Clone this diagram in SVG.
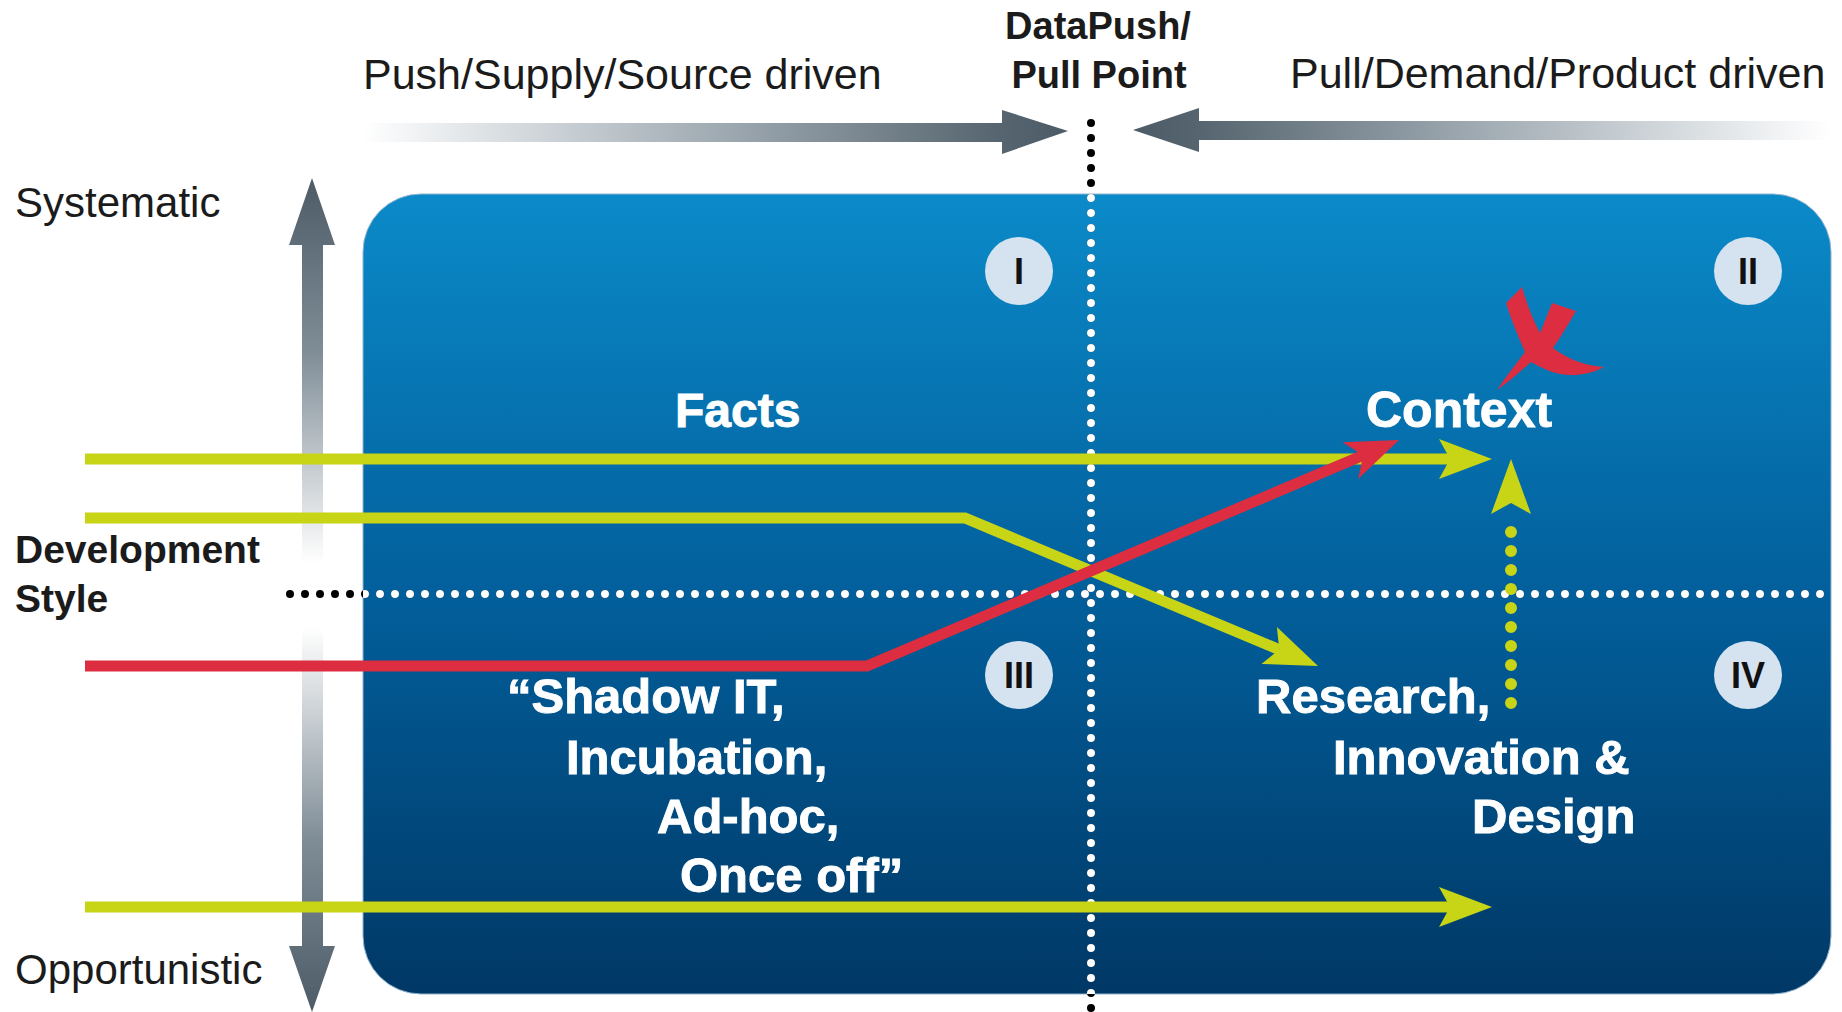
<svg xmlns="http://www.w3.org/2000/svg" width="1842" height="1012" viewBox="0 0 1842 1012">
<defs>
  <linearGradient id="gBox" x1="0" y1="0" x2="0" y2="1">
    <stop offset="0" stop-color="#0B8AC9"/>
    <stop offset="0.5" stop-color="#025F9B"/>
    <stop offset="1" stop-color="#003866"/>
  </linearGradient>
  <linearGradient id="gPush" gradientUnits="userSpaceOnUse" x1="362" y1="0" x2="1068" y2="0">
    <stop offset="0" stop-color="#ffffff"/>
    <stop offset="0.15" stop-color="#e2e6e9"/>
    <stop offset="0.6" stop-color="#8e9aa3"/>
    <stop offset="0.9" stop-color="#56656f"/>
    <stop offset="1" stop-color="#4c5b66"/>
  </linearGradient>
  <linearGradient id="gPull" gradientUnits="userSpaceOnUse" x1="1830" y1="0" x2="1133" y2="0">
    <stop offset="0" stop-color="#ffffff"/>
    <stop offset="0.15" stop-color="#e2e6e9"/>
    <stop offset="0.6" stop-color="#8e9aa3"/>
    <stop offset="0.9" stop-color="#56656f"/>
    <stop offset="1" stop-color="#4c5b66"/>
  </linearGradient>
  <linearGradient id="gUp" gradientUnits="userSpaceOnUse" x1="0" y1="178" x2="0" y2="563">
    <stop offset="0" stop-color="#4c5b66"/>
    <stop offset="0.45" stop-color="#7f8d97"/>
    <stop offset="1" stop-color="#ffffff"/>
  </linearGradient>
  <linearGradient id="gDown" gradientUnits="userSpaceOnUse" x1="0" y1="628" x2="0" y2="1012">
    <stop offset="0" stop-color="#ffffff"/>
    <stop offset="0.55" stop-color="#7f8d97"/>
    <stop offset="1" stop-color="#4c5b66"/>
  </linearGradient>
  <clipPath id="boxClip">
    <rect x="363" y="194" width="1468" height="800" rx="58" ry="58"/>
  </clipPath>
  <marker id="headY" markerUnits="userSpaceOnUse" markerWidth="60" markerHeight="44" viewBox="-12 -22 56 44" refX="0" refY="0" orient="auto" overflow="visible">
    <path d="M42,0 L-11,-20 L0,0 L-11,20 Z" fill="#C8D416"/>
  </marker>
  <marker id="headR" markerUnits="userSpaceOnUse" markerWidth="60" markerHeight="44" viewBox="-12 -22 56 44" refX="0" refY="0" orient="auto" overflow="visible">
    <path d="M39,0 L-14,-20 L0,0 L-14,20 Z" fill="#DC2D41"/>
  </marker>
  <style>
    .lbl { font-family: "Liberation Sans", Arial, sans-serif; fill: #1b1b1b; }
    .reg { font-size: 42px; }
    .bold { font-size: 38px; font-weight: bold; }
    .inner { font-family: "Liberation Sans", Arial, sans-serif; font-weight: bold; fill: #ffffff; stroke: #ffffff; stroke-width: 0.9px; font-size: 49px; }
    .num { font-family: "Liberation Sans", Arial, sans-serif; font-weight: bold; font-size: 36px; fill: #111111; text-anchor: middle; }
    .circ { fill: #D5E2EF; }
    .yel { fill: none; stroke: #C8D416; stroke-width: 11; }
    .red { fill: none; stroke: #DC2D41; stroke-width: 11; }
    .dotB { fill: none; stroke: #000000; stroke-width: 8; stroke-dasharray: 0 15; stroke-linecap: round; }
    .dotW { fill: none; stroke: #ffffff; stroke-width: 8; stroke-dasharray: 0 15; stroke-linecap: round; }
  </style>
</defs>

<rect width="1842" height="1012" fill="#ffffff"/>

<!-- top push/pull arrows -->
<g id="push-arrow">
  <path d="M362,123 L1002,123 L1002,110 L1068,131 L1002,154 L1002,142 L362,142 Z" fill="url(#gPush)"/>
</g>
<g id="pull-arrow">
  <path d="M1830,121 L1199,121 L1199,108 L1133,130 L1199,152 L1199,140 L1830,140 Z" fill="url(#gPull)"/>
</g>

<!-- vertical axis arrow -->
<g id="axis-arrow">
  <path d="M312,178 L335,245 L323,245 L323,563 L302,563 L302,245 L289,245 Z" fill="url(#gUp)"/>
  <path d="M302,628 L323,628 L323,946 L335,946 L312,1012 L289,946 L302,946 Z" fill="url(#gDown)"/>
</g>

<!-- main box -->
<g id="matrix">
  <rect x="363" y="194" width="1468" height="800" rx="58" ry="58" fill="url(#gBox)" stroke="#8fb3cf" stroke-width="1"/>
</g>

<!-- dotted dividers -->
<g id="dividers">
  <path class="dotB" d="M1091,123 L1091,1012"/>
  <path class="dotB" d="M290,594 L1830,594"/>
  <g clip-path="url(#boxClip)">
    <path class="dotW" d="M1091,123 L1091,1012"/>
    <path class="dotW" d="M290,594 L1830,594"/>
  </g>
</g>

<!-- quadrant markers -->
<g id="q1"><circle class="circ" cx="1019" cy="271" r="34"/><text class="num" x="1019" y="284">I</text></g>
<g id="q2"><circle class="circ" cx="1748" cy="271" r="34"/><text class="num" x="1748" y="284">II</text></g>
<g id="q3"><circle class="circ" cx="1019" cy="675" r="34"/><text class="num" x="1019" y="688">III</text></g>
<g id="q4"><circle class="circ" cx="1748" cy="675" r="34"/><text class="num" x="1748" y="688">IV</text></g>

<!-- connectors -->
<g id="connectors">
  <path class="yel" d="M85,459 L1450,459" marker-end="url(#headY)"/>
  <path class="yel" d="M85,518 L965,518 L1279.3,649.7" marker-end="url(#headY)"/>
  <path class="yel" d="M85,907 L1450,907" marker-end="url(#headY)"/>
  <path class="red" d="M85,666 L867,666 L1363.2,455.2" marker-end="url(#headR)"/>
  <path d="M1511,703 L1511,513" fill="none" stroke="#C8D416" stroke-width="12" stroke-dasharray="0 19" stroke-linecap="round"/>
  <path d="M1511,459 L1531,514 L1511,503 L1491,514 Z" fill="#C8D416"/>
</g>

<!-- red cross mark -->
<g id="cross-mark">
  <path d="M1506,303 L1522,287 C1527,305 1533,320 1540,333 L1552,303 L1576,311 C1568,325 1560,338 1553,348 C1566,358 1585,366 1604,367 C1588,376 1565,378 1547,370 C1540,367 1535,364 1531,362 C1520,372 1508,382 1497,390 C1505,378 1515,365 1525,352 C1518,336 1511,320 1506,303 Z" fill="#DC2D41"/>
</g>

<!-- labels -->
<g id="label-push"><text class="lbl reg" x="363" y="89" style="font-size:43px">Push/Supply/Source driven</text></g>
<g id="label-pull"><text class="lbl reg" x="1290" y="88" style="font-size:43px">Pull/Demand/Product driven</text></g>
<g id="label-point">
  <text class="lbl bold" x="1098" y="39" text-anchor="middle">DataPush/</text>
  <text class="lbl bold" x="1099" y="88" text-anchor="middle">Pull Point</text>
</g>
<g id="label-systematic"><text class="lbl reg" x="15" y="217">Systematic</text></g>
<g id="label-style">
  <text class="lbl bold" x="15" y="563" style="font-size:39px">Development</text>
  <text class="lbl bold" x="15" y="612" style="font-size:39px">Style</text>
</g>
<g id="label-opportunistic"><text class="lbl reg" x="15" y="984">Opportunistic</text></g>

<g id="facts"><text class="inner" x="675" y="427" style="font-size:48px">Facts</text></g>
<g id="context"><text class="inner" x="1366" y="427" style="font-size:50px">Context</text></g>
<g id="shadow-it">
  <text class="inner" x="507" y="713">“Shadow IT,</text>
  <text class="inner" x="566" y="774">Incubation,</text>
  <text class="inner" x="657" y="833">Ad-hoc,</text>
  <text class="inner" x="680" y="892">Once off”</text>
</g>
<g id="research">
  <text class="inner" x="1256" y="713">Research,</text>
  <text class="inner" x="1333" y="774">Innovation &amp;</text>
  <text class="inner" x="1472" y="833">Design</text>
</g>
</svg>
